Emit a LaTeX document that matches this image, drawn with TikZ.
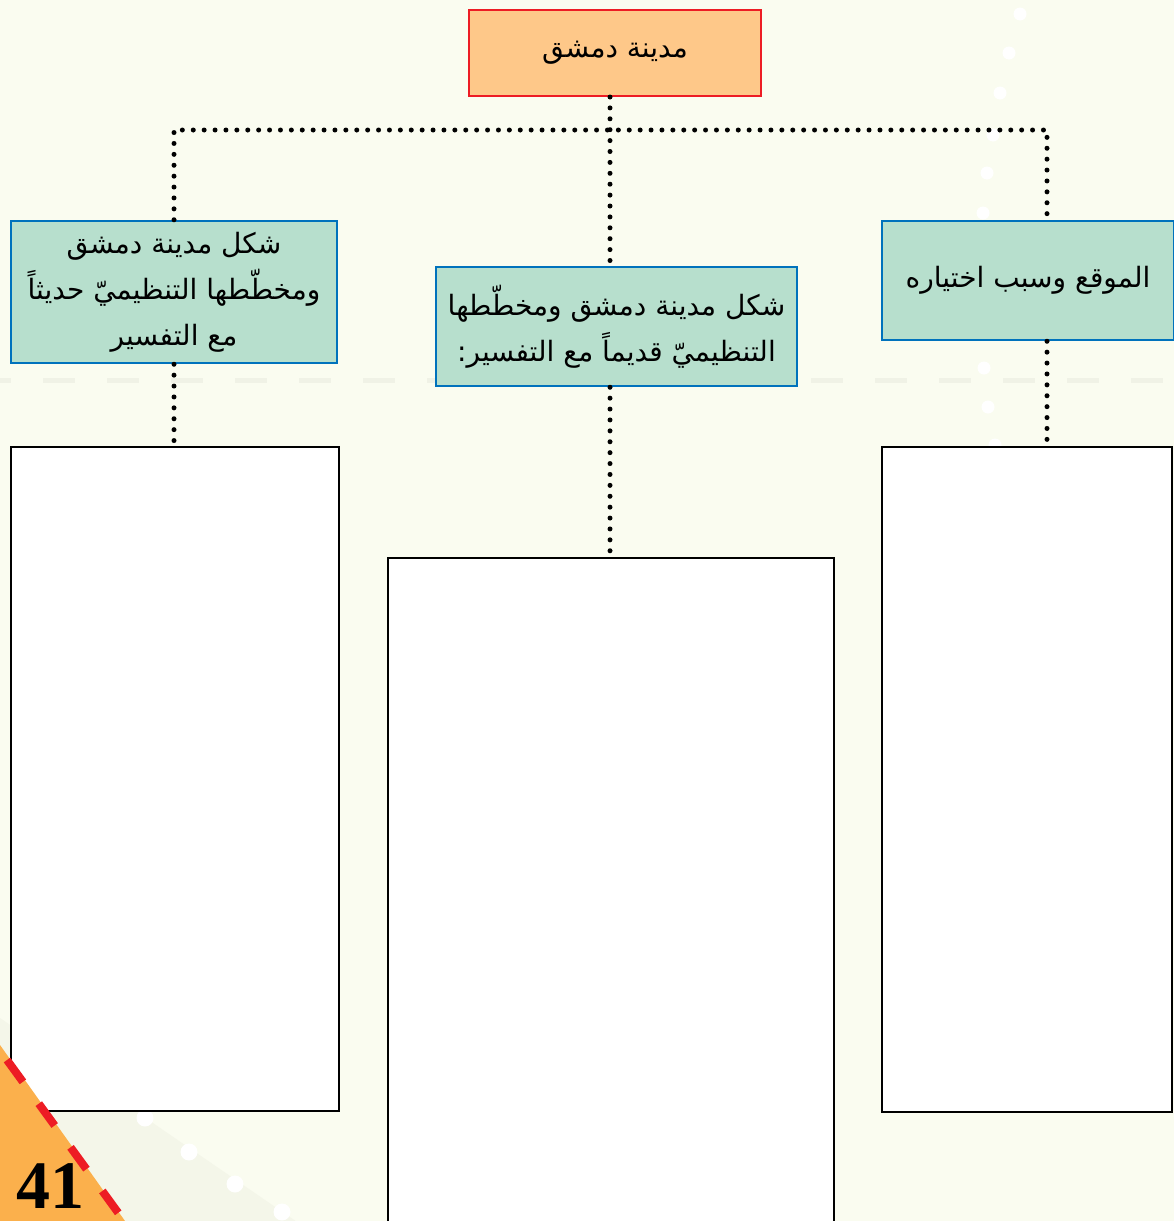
\documentclass[tikz,border=0pt]{standalone}
\usepackage{fontspec}
\TeXXeTstate=1
\newfontfamily\arabicfont[Script=Arabic]{DejaVu Sans}
\newfontfamily\numfont{Liberation Serif}
\definecolor{bgc}{RGB}{250,252,240}
\definecolor{bandc}{RGB}{244,246,233}
\definecolor{dashc}{RGB}{240,242,230}
\definecolor{topfill}{RGB}{254,200,137}
\definecolor{redc}{RGB}{237,28,36}
\definecolor{greenfill}{RGB}{183,223,205}
\definecolor{bluec}{RGB}{0,114,188}
\definecolor{orangec}{RGB}{251,176,76}
\tikzset{
  arab/.style={font=\arabicfont\fontsize{28}{46}\selectfont, align=center},
  topbox/.style={draw=redc, line width=2pt, fill=topfill, rectangle, inner sep=0pt, arab},
  greenbox/.style={draw=bluec, line width=2.5pt, fill=greenfill, rectangle, inner sep=0pt, arab},
  whitebox/.style={draw=black, line width=2.5pt, fill=white, rectangle, inner sep=0pt},
  dotline/.style={line width=5pt, line cap=round, dash pattern=on 0pt off 10.9pt},
  wdot/.style={fill=white}
}
\begin{document}
\begin{tikzpicture}[x=1pt,y=-1pt]
\useasboundingbox (0,0) rectangle (1174,1221);
\fill[bgc] (0,0) rectangle (1174,1221);
% faint dashed band
\draw[dashc, line width=5pt, dash pattern=on 32pt off 32pt] (-21,380.5) -- (1174,380.5);
% bottom-left shaded band
\fill[bandc] (0,1018) -- (300,1224) -- (0,1224) -- cycle;
% white dots right column
\foreach \px/\py in {1020/14,1009/53,1000/93,993/135,987/173,983/213,984/368,988/407,995/445}
  \fill[wdot] (\px,\py) circle (6.5);
% white dots bottom-left
\foreach \px/\py in {145/1118,189/1152,235/1184,282/1212}
  \fill[wdot] (\px,\py) circle (8.5);

% nodes
\node[topbox, minimum width=292pt, minimum height=86pt] (top) at (615,53) {\beginR مدينة دمشق\endR};
\node[greenbox, minimum width=326pt, minimum height=142pt] (left) at (174,292)
  {\beginR شكل مدينة دمشق\endR\\ \beginR ومخطّطها التنظيميّ حديثاً\endR\\ \beginR مع التفسير\endR};
\node[greenbox, minimum width=361pt, minimum height=119pt] (mid) at (616.5,326.5)
  {\beginR شكل مدينة دمشق ومخطّطها\endR\\ \beginR التنظيميّ قديماً مع التفسير:\endR};
\node[greenbox, minimum width=292pt, minimum height=119pt] (right) at (1028,280.5)
  {\beginR الموقع وسبب اختياره\endR};
\node[whitebox, minimum width=328pt, minimum height=664pt] (lw) at (175,779) {};
\node[whitebox, minimum width=446pt, minimum height=672pt] (mw) at (611,894) {};
\node[whitebox, minimum width=290pt, minimum height=665pt] (rw) at (1027,779.5) {};

% junction coordinates
\coordinate (jc) at (610,130);
\coordinate (jl) at (174,130);
\coordinate (jr) at (1047,130);

% connectors
\draw[dotline] (jc |- top.south) -- (jc |- mid.north);
\draw[dotline] (jl |- left.north) -- (jl) -- (jr) -- (jr |- right.north);
\draw[dotline] (left.south) -- (left.south |- lw.north);
\draw[dotline] (jc |- mid.south) -- (jc |- mw.north);
\draw[dotline] (jr |- right.south) -- (jr |- rw.north);

% corner triangle
\fill[orangec] (0,1045) -- (125,1221) -- (0,1221) -- cycle;
\draw[redc, line width=8pt, dash pattern=on 27pt off 27pt] (7,1060) -- (122,1218);
\node[anchor=base west, inner sep=0pt, font=\numfont\bfseries\fontsize{68}{68}\selectfont] (num) at (16,1208) {41};
\end{tikzpicture}
\end{document}
